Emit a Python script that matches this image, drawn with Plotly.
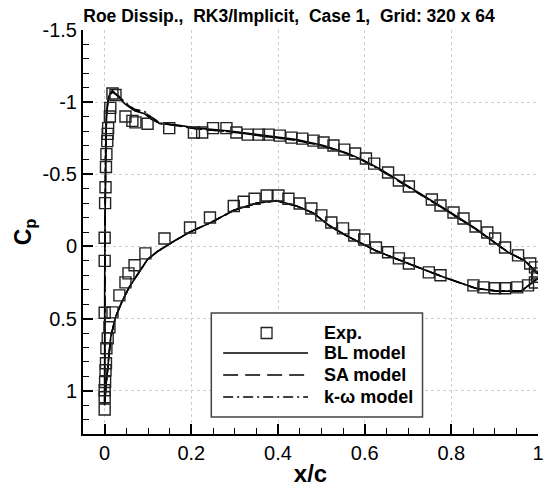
import plotly.graph_objects as go

# ---------------- data ----------------
# Experimental Cp, upper surface
x_exp_up = [0.000, 0.001, 0.002, 0.003, 0.004, 0.006, 0.007, 0.008, 0.012, 0.013, 0.018, 0.025,
            0.048, 0.064, 0.071, 0.099, 0.149, 0.206, 0.225, 0.250, 0.281, 0.304, 0.330, 0.356,
            0.378, 0.404, 0.431, 0.456, 0.482, 0.505, 0.528, 0.553, 0.578, 0.603, 0.622, 0.654,
            0.679, 0.702, 0.755, 0.775, 0.805, 0.828, 0.856, 0.883, 0.901, 0.924, 0.954, 0.982,
            0.993, 1.000]
cp_exp_up = [-0.06, -0.30, -0.41, -0.55, -0.64, -0.73, -0.78, -0.82, -0.90, -0.96, -1.06, -1.05,
             -0.90, -0.87, -0.86, -0.85, -0.82, -0.79, -0.79, -0.82, -0.82, -0.79, -0.775, -0.775,
             -0.775, -0.768, -0.754, -0.747, -0.733, -0.72, -0.699, -0.671, -0.644, -0.609, -0.574, -0.512,
             -0.457, -0.415, -0.325, -0.284, -0.235, -0.194, -0.138, -0.097, -0.055, 0.007, 0.062, 0.118,
             0.145, 0.187]

# Experimental Cp, lower surface
x_exp_lo = [0.000, 0.000, 0.000, 0.000, 0.000, 0.001, 0.002, 0.003, 0.004, 0.007, 0.011, 0.018,
            0.034, 0.048, 0.055, 0.069, 0.094, 0.138, 0.197, 0.243, 0.298, 0.321, 0.346, 0.374,
            0.401, 0.424, 0.450, 0.477, 0.500, 0.523, 0.550, 0.576, 0.599, 0.626, 0.654, 0.679,
            0.702, 0.748, 0.775, 0.851, 0.874, 0.901, 0.924, 0.952, 0.977, 0.993, 0.998]
cp_exp_lo = [0.10, 0.46, 1.13, 1.045, 0.997, 0.94, 0.858, 0.81, 0.706, 0.637, 0.56, 0.457,
             0.339, 0.249, 0.187, 0.13, 0.048, -0.055, -0.131, -0.20, -0.28, -0.31, -0.33, -0.353,
             -0.353, -0.33, -0.298, -0.263, -0.215, -0.166, -0.125, -0.076, -0.048, 0.007, 0.04, 0.083,
             0.118, 0.18, 0.20, 0.27, 0.284, 0.29, 0.29, 0.284, 0.27, 0.25, 0.21]

# Computed Cp (upper surface TE -> LE, then lower surface LE -> TE)
x_cfd = [1.000, 0.970, 0.931, 0.856, 0.780, 0.711, 0.672, 0.633, 0.596, 0.557, 0.505, 0.443,
         0.367, 0.289, 0.213, 0.160, 0.128, 0.106, 0.092, 0.069, 0.046, 0.030, 0.018, 0.012,
         0.007, 0.004, 0.002, 0.001, 0.000, 0.000, 0.000,
         0.002, 0.007, 0.014, 0.025, 0.041, 0.057, 0.076, 0.099, 0.122, 0.138, 0.160, 0.197,
         0.248, 0.298, 0.351, 0.397, 0.443, 0.482, 0.518, 0.557, 0.626, 0.702, 0.780, 0.856,
         0.906, 0.961, 1.000]
cp_bl = [0.19, 0.10, 0.04, -0.125, -0.27, -0.40, -0.47, -0.54, -0.60, -0.65, -0.70, -0.74,
         -0.77, -0.80, -0.82, -0.845, -0.85, -0.885, -0.92, -0.94, -0.99, -1.04, -1.08, -1.06,
         -1.00, -0.90, -0.60, -0.20, 0.30, 0.80, 1.10,
         1.00, 0.84, 0.63, 0.49, 0.375, 0.28, 0.19, 0.09, 0.035, 0.005, -0.037, -0.10,
         -0.17, -0.25, -0.30, -0.318, -0.28, -0.23, -0.145, -0.076, 0.03, 0.12, 0.21, 0.29,
         0.31, 0.31, 0.22]
cp_sa = [0.19, 0.10, 0.04, -0.12, -0.265, -0.395, -0.465, -0.535, -0.595, -0.645, -0.695, -0.735,
         -0.765, -0.795, -0.815, -0.84, -0.855, -0.895, -0.93, -0.945, -0.995, -1.045, -1.07, -1.05,
         -0.99, -0.89, -0.60, -0.20, 0.30, 0.80, 1.10,
         1.00, 0.84, 0.63, 0.49, 0.375, 0.28, 0.19, 0.09, 0.035, 0.005, -0.037, -0.10,
         -0.17, -0.25, -0.30, -0.315, -0.28, -0.23, -0.145, -0.076, 0.03, 0.12, 0.21, 0.29,
         0.31, 0.31, 0.22]
cp_kw = [0.19, 0.10, 0.04, -0.12, -0.265, -0.395, -0.465, -0.535, -0.595, -0.645, -0.695, -0.735,
         -0.765, -0.795, -0.815, -0.84, -0.855, -0.90, -0.935, -0.95, -1.00, -1.05, -1.075, -1.055,
         -0.99, -0.89, -0.60, -0.20, 0.30, 0.80, 1.10,
         1.00, 0.84, 0.63, 0.49, 0.375, 0.28, 0.19, 0.09, 0.035, 0.005, -0.037, -0.10,
         -0.17, -0.25, -0.30, -0.316, -0.28, -0.23, -0.145, -0.076, 0.03, 0.12, 0.21, 0.29,
         0.31, 0.31, 0.22]

x_ticks = [0, 0.2, 0.4, 0.6, 0.8, 1.0]
x_ticktext = ["0", "0.2", "0.4", "0.6", "0.8", "1"]
y_ticks = [-1.5, -1.0, -0.5, 0.0, 0.5, 1.0]
y_ticktext = ["-1.5", "-1", "-0.5", "0", "0.5", "1"]

legend_labels = ["Exp.", "BL model", "SA model", "k-\u03c9 model"]

title_text = "Roe Dissip.,\u00a0 RK3/Implicit,\u00a0 Case 1,\u00a0 Grid: 320 x 64"

# ---------------- figure ----------------
FONT = "Liberation Sans, Arial, Helvetica, sans-serif"
W, H = 548, 487
L, R, T, B = 83, 4, 30, 53
pw, ph = W - L - R, H - T - B


def px(xp):
    return (xp - L) / pw


def py(yp):
    return (H - B - yp) / ph


fig = go.Figure()

line_styles = [("BL model", cp_bl, "solid"),
               ("SA model", cp_sa, "15px,7px"),
               ("k-\u03c9 model", cp_kw, "10px,4px,2px,4px")]
for name, cp, dash in line_styles:
    fig.add_trace(go.Scatter(x=x_cfd, y=cp, mode="lines", name=name,
                             line=dict(color="black", width=1.6, dash=dash),
                             showlegend=False))

fig.add_trace(go.Scatter(x=x_exp_up + x_exp_lo, y=cp_exp_up + cp_exp_lo, mode="markers",
                         name="Exp.", showlegend=False,
                         marker=dict(symbol="square-open", size=11,
                                     color="#222", line=dict(width=1.4, color="#222"))))

# manual legend (box, samples, labels)
shapes = []
annotations = []
shapes.append(dict(type="rect", xref="paper", yref="paper",
                   x0=px(213), x1=px(427), y0=py(417), y1=py(313),
                   line=dict(color="#444", width=1.5), fillcolor="white", layer="above"))
row_y = [333, 353, 375, 397]
# square sample
shapes.append(dict(type="rect", xref="paper", yref="paper",
                   x0=px(263.5), x1=px(274.5), y0=py(338.5), y1=py(327.5),
                   line=dict(color="#222", width=1.3), layer="above"))
for (name, cp, dash), yy in zip(line_styles, row_y[1:]):
    shapes.append(dict(type="line", xref="paper", yref="paper",
                       x0=px(225), x1=px(311), y0=py(yy), y1=py(yy),
                       line=dict(color="black", width=1.3, dash=dash), layer="above"))
for lab, yy in zip(legend_labels, row_y):
    annotations.append(dict(text=lab, xref="paper", yref="paper", x=px(325), y=py(yy),
                            xanchor="left", yanchor="middle", showarrow=False,
                            font=dict(family=FONT, size=18, color="black", weight="bold")))

axis_common = dict(showline=True, linewidth=2, linecolor="black", mirror=False,
                   ticks="inside", ticklen=10, tickwidth=2, tickcolor="black",
                   showgrid=True, gridcolor="#cfcfcf", griddash="dot", gridwidth=1,
                   zeroline=False, ticklabeloverflow="allow",
                   tickfont=dict(family=FONT, size=20, color="black"))

fig.update_layout(
    width=W, height=H,
    margin=dict(l=L, r=R, t=T, b=B, pad=0),
    paper_bgcolor="white", plot_bgcolor="white",
    title=dict(text=title_text, x=289 / W, xanchor="center",
               y=1 - 16 / H, yanchor="middle",
               font=dict(family=FONT, size=17.5, color="black", weight="bold")),
    xaxis=dict(range=[-0.05, 1.0], tickvals=x_ticks, ticktext=x_ticktext,
               title=dict(text="x/c", standoff=2,
                          font=dict(family=FONT, size=24, color="black", weight="bold")),
               minor=dict(dtick=0.05, tick0=0, ticks="inside", ticklen=6, tickwidth=1,
                          tickcolor="black", showgrid=False),
               **axis_common),
    yaxis=dict(range=[1.3, -1.5], tickvals=y_ticks, ticktext=y_ticktext,
               title=dict(text="C<sub>p</sub>", standoff=4,
                          font=dict(family=FONT, size=23, color="black", weight="bold")),
               minor=dict(dtick=0.1, tick0=0, ticks="inside", ticklen=6, tickwidth=1,
                          tickcolor="black", showgrid=False),
               **axis_common),
    shapes=shapes,
    annotations=annotations,
    showlegend=False,
)

fig.write_html("out.html")
